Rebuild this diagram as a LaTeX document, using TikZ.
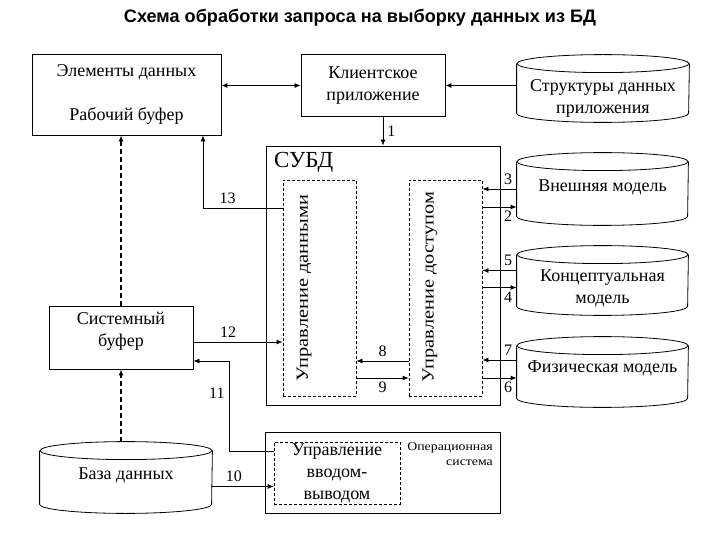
\documentclass[tikz,border=0pt]{standalone}
\usepackage{fontspec}
\setmainfont{Liberation Serif}
\newfontfamily\titlefont{Liberation Sans}
\usetikzlibrary{arrows.meta}

% outline of a storage drum round a named node: #1 node, #2 half width (pt)
\newcommand\drum[2]{%
  \draw ([yshift=-9pt]#1.north) ellipse [x radius=#2pt, y radius=9pt];
  \draw ([yshift=-9pt]#1.north west) -- ([yshift=9pt]#1.south west)
    arc [start angle=180, end angle=360, x radius=#2pt, y radius=9pt]
    -- ([yshift=-9pt]#1.north east);
}

\tikzset{
  >={Latex[length=6pt,width=5pt]},
  block/.style={draw, rectangle, align=center, font=\fontsize{18}{22}\selectfont},
  inner/.style={draw, dash pattern=on 3pt off 2pt, rectangle},
  store/.style={rectangle, inner sep=0pt},
  storetext/.style={align=center, font=\fontsize{18}{22}\selectfont},
  num/.style={font=\fontsize{16}{18}\selectfont, inner sep=4pt},
  vtext/.style={rotate=90, xscale=1.2, font=\fontsize{17}{20}\selectfont},
  pipe/.style={->, line width=1.4pt, dash pattern=on 5pt off 3pt},
}

\begin{document}
\begin{tikzpicture}[x=1pt, y=-1pt, line width=0.8pt]
    \useasboundingbox (0,0) rectangle (720,540);
    \node[font=\titlefont\bfseries\fontsize{18.1}{21}\selectfont] (title) at (360,18)
      {Схема обработки запроса на выборку данных из БД};

    % top row
    \node[block, minimum width=189pt, minimum height=81pt] (elem) at (126.5,94.5)
      {Элементы данных\\[22pt]Рабочий буфер};
    \node[block, minimum width=144pt, minimum height=62pt] (client) at (373,85.5)
      {Клиентское\\приложение};
    \node[store, minimum width=172pt, minimum height=67pt] (appdata) at (603,88.5) {};
    \drum{appdata}{86}
    \node[storetext] (appdatatext) at ([yshift=-9.5pt]appdata.center)
      {Структуры данных\\приложения};

    % СУБД
    \node[block, minimum width=234pt, minimum height=259pt] (dbms) at (383,275.5) {};
    \node[font=\fontsize{23}{25}\selectfont, anchor=north west, inner sep=2pt] (dbmsname)
      at ([xshift=6pt,yshift=-4pt]dbms.north west) {СУБД};
    \node[inner, minimum width=73pt, minimum height=216pt] (datactl) at (319.5,288) {};
    \node[inner, minimum width=73pt, minimum height=216pt] (accctl) at (445.5,288) {};
    \node[vtext] (datatext) at (304,288) {Управление данными};
    \node[vtext] (acctext) at (430,287) {Управление доступом};

    % models
    \node[store, minimum width=171pt, minimum height=72pt] (extmodel) at (602.5,189) {};
    \drum{extmodel}{85.5}
    \node[storetext] (exttext) at ([yshift=2pt]extmodel.center) {Внешняя модель};
    \node[store, minimum width=171pt, minimum height=69pt] (conmodel) at (602.5,280.5) {};
    \drum{conmodel}{85.5}
    \node[storetext] (context) at ([yshift=-8pt]conmodel.center)
      {Концептуальная\\модель};
    \node[store, minimum width=171pt, minimum height=70pt] (physmodel) at (602.5,372) {};
    \drum{physmodel}{85.5}
    \node[storetext] (phystext) at ([yshift=4pt]physmodel.center) {Физическая модель};

    % bottom
    \node[block, minimum width=144pt, minimum height=63pt] (sysbuf) at (121,337.5)
      {Системный\\буфер\\[-5pt]};
    \node[store, minimum width=172pt, minimum height=71pt] (db) at (126,477.5) {};
    \drum{db}{86}
    \node[storetext] (dbtext) at ([yshift=2.5pt]db.center) {База данных};
    \node[block, minimum width=235pt, minimum height=81pt] (os) at (382.5,472.5) {};
    \node[inner, minimum width=126pt, minimum height=62pt, inner sep=0pt, align=center,
      font=\fontsize{18}{22}\selectfont] (io) at (337,473) {Управление\\вводом-\\выводом};
    \node[font=\fontsize{12}{15}\selectfont, xscale=1.15, align=right, anchor=north east,
      inner sep=1pt] (osname) at ([xshift=-6pt,yshift=-10pt]os.north east)
      {Операционная\\система};

    % connectors
    \draw[<->] (elem.east |- client.west) -- (client.west);
    \draw[->] (appdata.west |- client.east) -- (client.east);
    \draw[->] ([xshift=10pt]client.south) -- ([xshift=10pt]client.south |- dbms.north)
      node[num, midway, right] {1};

    \coordinate (k13) at (203,208);
    \draw[->] (k13 -| datactl.west) -- node[num, above, pos=0.69] {13} (k13) -- (k13 |- elem.south);
    \draw[pipe] (sysbuf.north) -- (sysbuf.north |- elem.south);
    \draw[pipe] (sysbuf.south |- db.north) -- (sysbuf.south);

    \draw[->] ([yshift=-4.5pt]sysbuf.east) -- ([yshift=-4.5pt]sysbuf.east -| datactl.west)
      node[num, pos=0.39, above] {12};
    \coordinate (k11) at (229,451);
    \draw[->] (k11 -| io.west) -- (k11) -- node[num, left, pos=0.64] {11}
      ([yshift=-23.5pt]sysbuf.east -| k11) -- ([yshift=-23.5pt]sysbuf.east);
    \draw[->] ([yshift=-9pt]db.east) -- ([yshift=-9pt]db.east -| io.west)
      node[num, pos=0.35, above] {10};

    \draw[->] ([yshift=-73pt]accctl.west) -- ([yshift=-73pt]accctl.west -| datactl.east)
      node[num, midway, above] {8};
    \draw[->] ([yshift=-90pt]datactl.east) -- ([yshift=-90pt]datactl.east -| accctl.west)
      node[num, midway, below] {9};

    \draw[->] (extmodel.west) -- (extmodel.west -| accctl.east) node[num, pos=0, above left] {3};
    \draw[->] ([yshift=-18pt]extmodel.west -| accctl.east) -- ([yshift=-18pt]extmodel.west)
      node[num, pos=1, below left] {2};
    \draw[->] ([yshift=10pt]conmodel.west) -- ([yshift=10pt]conmodel.west -| accctl.east)
      node[num, pos=0, above left] {5};
    \draw[->] ([yshift=-7pt]conmodel.west -| accctl.east) -- ([yshift=-7pt]conmodel.west)
      node[num, pos=1, below left] {4};
    \draw[->] ([yshift=12pt]physmodel.west) -- ([yshift=12pt]physmodel.west -| accctl.east)
      node[num, pos=0, above left] {7};
    \draw[->] ([yshift=-6pt]physmodel.west -| accctl.east) -- ([yshift=-6pt]physmodel.west)
      node[num, pos=1, below left] {6};
\end{tikzpicture}
\end{document}
